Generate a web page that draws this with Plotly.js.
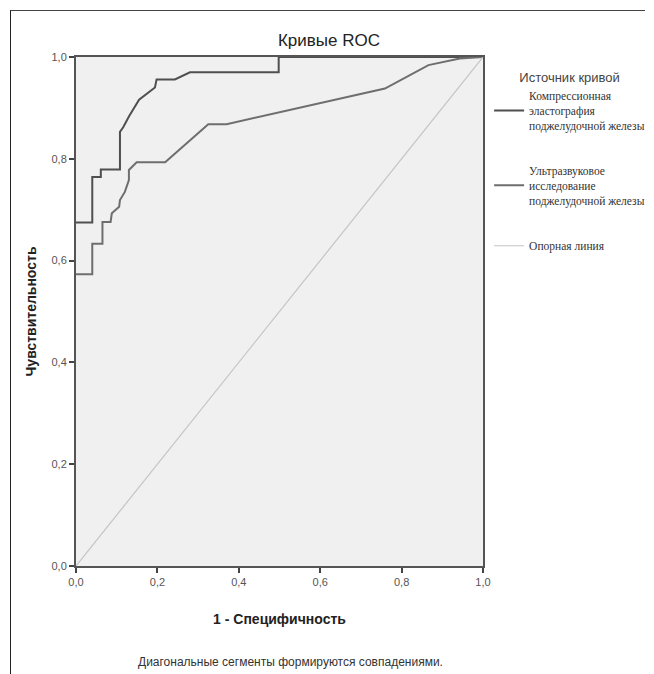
<!DOCTYPE html>
<html><head><meta charset="utf-8">
<script src="https://cdn.plot.ly/plotly-3.0.1.min.js"></script>
<style>
html,body{margin:0;padding:0;background:#fff;}
#frame{position:absolute;left:10px;top:10px;width:634px;height:680px;border-left:1.5px solid #222;border-top:1.5px solid #444;}
#chart{position:absolute;left:0;top:0;width:654px;height:674px;}
</style></head>
<body>
<div id="frame"></div>
<div id="chart"></div>
<script>
// Компрессионная эластография поджелудочной железы
const elastoX = [0, 0.040, 0.040, 0.061, 0.061, 0.108, 0.108, 0.116, 0.130, 0.155, 0.194, 0.198, 0.243, 0.280, 0.498, 0.498, 1.0];
const elastoY = [0.675, 0.675, 0.764, 0.764, 0.779, 0.779, 0.853, 0.862, 0.883, 0.916, 0.940, 0.956, 0.956, 0.970, 0.970, 1.0, 1.0];
// Ультразвуковое исследование поджелудочной железы
const usX = [0, 0.040, 0.040, 0.065, 0.065, 0.085, 0.088, 0.106, 0.108, 0.120, 0.130, 0.130, 0.149, 0.219, 0.325, 0.370, 0.759, 0.866, 0.943, 1.0];
const usY = [0.573, 0.573, 0.633, 0.633, 0.676, 0.676, 0.693, 0.706, 0.719, 0.735, 0.758, 0.778, 0.793, 0.793, 0.868, 0.868, 0.938, 0.984, 0.997, 1.0];
// Опорная линия
const refX = [0, 1];
const refY = [0, 1];
const tickVals = [0, 0.2, 0.4, 0.6, 0.8, 1.0];

const traces = [
  {x: elastoX, y: elastoY, mode: 'lines', name: 'Компрессионная<br>эластография<br>поджелудочной железы',
   line: {color: '#4f4f4f', width: 2}, legendgroup: 'a'},
  {x: usX, y: usY, mode: 'lines', name: 'Ультразвуковое<br>исследование<br>поджелудочной железы',
   line: {color: '#6e6e6e', width: 2}, legendgroup: 'b'},
  {x: refX, y: refY, mode: 'lines', name: 'Опорная линия',
   line: {color: '#c4c4c4', width: 1.2}, legendgroup: 'c'}
];

const axisCommon = {
  range: [0, 1], tickvals: tickVals, tickformat: '.1f', ticks: 'outside', ticklen: 5, tickwidth: 2,
  tickcolor: '#444', showgrid: false, zeroline: false, showline: true, linecolor: '#555', linewidth: 2,
  mirror: true, tickfont: {family: 'Liberation Sans Narrow, Liberation Sans, Arial', size: 11, color: '#555'},
  fixedrange: true
};

const layout = {
  width: 654, height: 674,
  margin: {l: 76, r: 171, t: 57, b: 108, autoexpand: false},
  paper_bgcolor: 'rgba(0,0,0,0)', plot_bgcolor: '#f0f0f0',
  separators: ', ',
  title: {text: 'Кривые ROC', x: 329/654, xanchor: 'center', y: 1 - 40/674, yanchor: 'middle',
          font: {family: 'Liberation Sans, Arial', size: 17, color: '#222'}},
  xaxis: Object.assign({}, axisCommon, {
    title: {text: '1 - Специфичность', standoff: 27, font: {family: 'Liberation Sans, Arial', size: 14, color: '#222', weight: 'bold'}}
  }),
  yaxis: Object.assign({}, axisCommon, {
    title: {text: 'Чувствительность', standoff: 12, font: {family: 'Liberation Sans, Arial', size: 14, color: '#222', weight: 'bold'}}
  }),
  showlegend: true,
  legend: {
    x: 1.015, xanchor: 'left', y: 0.985, yanchor: 'top',
    bgcolor: 'rgba(0,0,0,0)', borderwidth: 0,
    font: {family: 'Liberation Serif, Times New Roman', size: 11.5, color: '#333'},
    title: {text: 'Источник кривой', side: 'top center', font: {family: 'Liberation Sans, Arial', size: 13, color: '#444'}},
    tracegroupgap: 27, itemwidth: 30
  },
  annotations: [
    {text: 'Диагональные сегменты формируются совпадениями.', xref: 'paper', yref: 'paper',
     x: (290 - 76) / 407, y: -(662 - 566) / 509, xanchor: 'center', yanchor: 'middle',
     showarrow: false, font: {family: 'Liberation Sans Narrow, Liberation Sans, Arial', size: 12, color: '#333'}}
  ]
};

Plotly.newPlot('chart', traces, layout, {displayModeBar: false, staticPlot: true});
</script>
</body></html>
